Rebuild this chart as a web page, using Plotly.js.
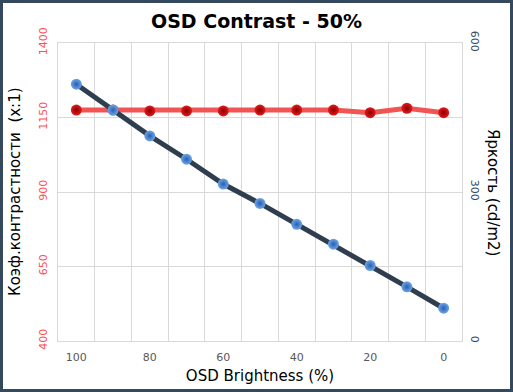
<!DOCTYPE html>
<html>
<head>
<meta charset="utf-8">
<script src="https://cdn.plot.ly/plotly-3.0.1.min.js"></script>
<style>
html,body{margin:0;padding:0;background:#fff;}
#wrap{position:relative;width:513px;height:392px;}
#chart{position:absolute;left:0;top:0;width:513px;height:392px;}
#frame{position:absolute;left:0;top:0;width:513px;height:392px;box-sizing:border-box;border:3px solid #34495E;pointer-events:none;}
</style>
</head>
<body>
<div id="wrap"><div id="chart"></div><div id="frame"></div></div>
<script>
const brightness = [100, 90, 80, 70, 60, 50, 40, 30, 20, 10, 0];
const contrast = [1175, 1175, 1172, 1172, 1172, 1175, 1175, 1175, 1166, 1181, 1166];
const luminance = [517, 465, 413, 366, 316, 277, 235, 195, 152, 109, 66];
const xTicks = [100, 80, 60, 40, 20, 0];
const leftTicks = [400, 650, 900, 1150, 1400];
const rightTicks = [0, 300, 600];

const font = "DejaVu Sans, Verdana, sans-serif";

const traces = [
  {
    x: brightness, y: contrast, type: 'scatter', mode: 'lines+markers',
    yaxis: 'y', name: 'Contrast',
    line: {color: '#F25454', width: 5},
    marker: {size: 11, color: '#E41A1A', gradient: {type: 'radial', color: '#8A0000'}, line: {width: 0}}
  },
  {
    x: brightness, y: luminance, type: 'scatter', mode: 'lines+markers',
    yaxis: 'y2', name: 'Luminance',
    line: {color: '#2F3E4E', width: 5},
    marker: {size: 11, color: '#6DA6EC', gradient: {type: 'radial', color: '#2A5FAA'}, line: {width: 0}}
  }
];

const layout = {
  width: 513, height: 392,
  margin: {l: 58, r: 51, t: 43, b: 51},
  paper_bgcolor: '#ffffff', plot_bgcolor: '#ffffff',
  showlegend: false,
  font: {family: font},
  title: {text: '<b>OSD Contrast - 50%</b>', font: {size: 19, color: '#000', family: font}, x: 0.5, xanchor: 'center', y: 0.945, yanchor: 'middle'},
  xaxis: {
    range: [105, -5], tickvals: xTicks, ticktext: xTicks.map(String),
    showgrid: false, zeroline: false, ticks: '',
    showline: true, linecolor: '#D9D9D9', linewidth: 1, mirror: true,
    tickfont: {size: 11, color: '#595959', family: font},
    ticklabelstandoff: 6,
    minor: {tick0: 5, dtick: 10, showgrid: true, gridcolor: '#D9D9D9', gridwidth: 1, ticks: ''},
    title: {text: 'OSD Brightness (%)', font: {size: 15, color: '#000', family: font}, standoff: 7}
  },
  yaxis: {
    range: [400, 1400], tickvals: leftTicks, ticktext: leftTicks.map(String),
    showgrid: true, gridcolor: '#D9D9D9', zeroline: false, ticks: '',
    showline: true, linecolor: '#D9D9D9', mirror: true,
    tickangle: -90, tickfont: {size: 11, color: '#FF5050', family: font},
    ticklabelstandoff: 6
  },
  yaxis2: {
    range: [0, 600], tickvals: rightTicks, ticktext: rightTicks.map(String),
    overlaying: 'y', side: 'right', showgrid: false, zeroline: false, ticks: '',
    showline: false,
    tickangle: 90, tickfont: {size: 11, color: '#2E4A66', family: font},
    ticklabelstandoff: 6
  },
  annotations: [
    {text: 'Коэф.контрастности  (x:1)', xref: 'paper', yref: 'paper', x: (15 - 58) / 404, y: 0.5,
     xanchor: 'center', yanchor: 'middle', textangle: -90, showarrow: false,
     font: {size: 15, color: '#000', family: font}},
    {text: 'Яркость (cd/m2)', xref: 'paper', yref: 'paper', x: (493 - 58) / 404, y: 0.5,
     xanchor: 'center', yanchor: 'middle', textangle: 90, showarrow: false,
     font: {size: 15, color: '#000', family: font}}
  ]
};

Plotly.newPlot('chart', traces, layout, {displayModeBar: false, staticPlot: true});
</script>
</body>
</html>
